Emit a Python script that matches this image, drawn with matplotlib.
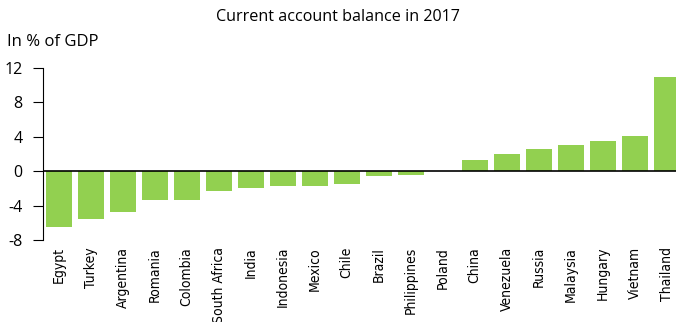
import numpy as np
import matplotlib
matplotlib.use('Agg')
import matplotlib.pyplot as plt
from matplotlib.font_manager import FontProperties

plt.rcParams['font.family'] = ['Open Sans', 'DejaVu Sans']

countries = ['Egypt', 'Turkey', 'Argentina', 'Romania', 'Colombia', 'South Africa',
             'India', 'Indonesia', 'Mexico', 'Chile', 'Brazil', 'Philippines',
             'Poland', 'China', 'Venezuela', 'Russia', 'Malaysia', 'Hungary',
             'Vietnam', 'Thailand']
balance = [-6.5, -5.5, -4.8, -3.4, -3.3, -2.3, -1.9, -1.7, -1.7, -1.5, -0.5, -0.4,
           0.0, 1.3, 2.0, 2.6, 3.0, 3.5, 4.1, 10.9]
yticks = [-8, -4, 0, 4, 8, 12]

fig = plt.figure(figsize=(6.76, 3.22), dpi=100)
ax = fig.add_axes([43.3 / 676, 1 - 240 / 322, 1 - 43.3 / 676, (240 - 68) / 322])

x = np.arange(len(countries))
ax.bar(x, balance, width=0.81, color='#92d050', zorder=2)
ax.axhline(0, color='black', lw=1.2, zorder=3)

ax.set_xlim(-0.48, 19.29)
ax.set_ylim(-8, 12)
ax.set_yticks(yticks)
ax.set_yticklabels([str(t) for t in yticks], fontsize=11.5)

# narrow face for the country names
cond = FontProperties(family='DejaVu Sans', stretch='condensed', size=10)
ax.set_xticks(x)
ax.set_xticklabels(countries, rotation=90, va='top', fontproperties=cond)
ax.tick_params(axis='x', length=0, pad=5)
ax.tick_params(axis='y', length=7, width=0.8, pad=8, direction='out')

for s in ['top', 'right', 'bottom']:
    ax.spines[s].set_visible(False)
ax.spines['left'].set_linewidth(0.8)

fig.text(0.5, 1 - 17 / 322, 'Current account balance in 2017', ha='center', va='center', fontsize=11.6)
fig.text(7 / 676, 1 - 42 / 322, 'In % of GDP', ha='left', va='center', fontsize=12)

fig.savefig('out.png', dpi=100)
